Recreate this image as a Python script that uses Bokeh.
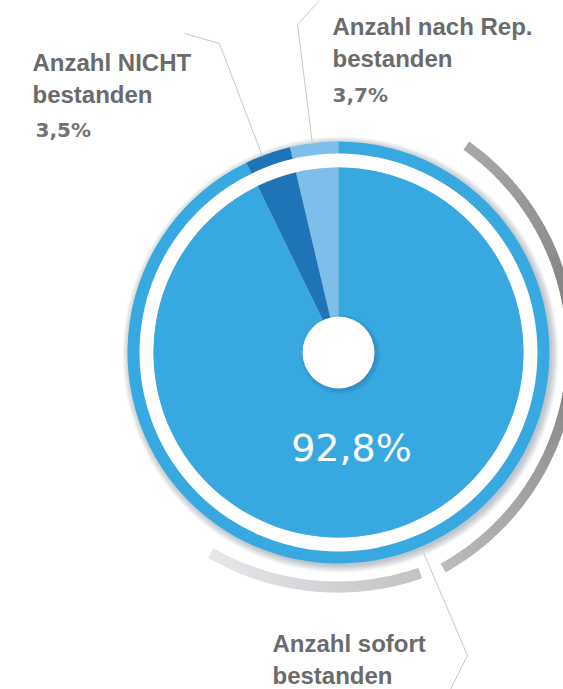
import numpy as np
from bokeh.plotting import figure
from bokeh.models import Range1d, ColumnDataSource
from bokeh.embed import file_html
from bokeh.resources import INLINE
from bokeh.core.properties import value

# ---- data ----
categories = ["Anzahl nach Rep. bestanden", "Anzahl NICHT bestanden", "Anzahl sofort bestanden"]
values = [3.7, 3.5, 92.8]
pct_labels = ["3,7%", "3,5%", "92,8%"]
label_lines = [["Anzahl nach Rep.", "bestanden"], ["Anzahl NICHT", "bestanden"], ["Anzahl sofort", "bestanden"]]
colors = ["#7dbfea", "#1f73b7", "#38a8e0"]

W, H = 563, 689
p = figure(width=W, height=H, x_range=Range1d(0, W), y_range=Range1d(0, H),
           output_backend="svg", toolbar_location=None, min_border=0)
p.axis.visible = False
p.grid.visible = False
p.outline_line_color = None
p.background_fill_color = "white"
p.border_fill_color = "white"


def Y(y):
    return H - y


cx, cy = 338, Y(352)


def lerp_hex(c1, c2, t):
    a = [int(c1[i:i + 2], 16) for i in (1, 3, 5)]
    b = [int(c2[i:i + 2], 16) for i in (1, 3, 5)]
    return "#%02x%02x%02x" % tuple(int(round(a[k] + (b[k] - a[k]) * t)) for k in range(3))


def grad_arc(x, y, r0, r1, a0, a1, stops, n=80):
    angs = np.linspace(a0, a1, n + 1)
    st, en, cols = [], [], []
    for i in range(n):
        t = (i + 0.5) / n
        for j in range(len(stops) - 1):
            if stops[j][0] <= t <= stops[j + 1][0]:
                tt = (t - stops[j][0]) / (stops[j + 1][0] - stops[j][0])
                c = lerp_hex(stops[j][1], stops[j + 1][1], tt)
                break
        lo, hi = min(angs[i], angs[i + 1]), max(angs[i], angs[i + 1])
        st.append(lo - 0.002)
        en.append(hi + 0.002)
        cols.append(c)
    p.annular_wedge(x=x, y=y, inner_radius=r0, outer_radius=r1, start_angle=st, end_angle=en,
                    fill_color=cols, line_color=None)


# decorative gray arcs
grad_arc(321, Y(349), 245, 255, np.radians(54.5), np.radians(-60.8),
         [(0, "#a9a9a9"), (0.45, "#7b7b7b"), (1, "#bcbcbc")])
grad_arc(337, Y(334), 247, 258, np.radians(-120), np.radians(-71),
         [(0, "#e8e8ec"), (1, "#c3c3c6")])

# soft shadow of outer ring
for k in range(8):
    p.circle(x=cx + 2, y=cy - 2, radius=211 + k, fill_color="#2a4f66", fill_alpha=0.045,
             line_color=None)

# pie geometry from data
fr = np.array(values) / sum(values)
ends = np.pi / 2 + 2 * np.pi * np.cumsum(fr)
starts = ends - 2 * np.pi * fr
src = ColumnDataSource(dict(start=starts, end=ends, color=colors, cat=categories))

# outer ring
p.annular_wedge(x=cx, y=cy, inner_radius=185, outer_radius=211, start_angle="start", end_angle="end",
                fill_color="color", line_color=None, source=src)
p.annular_wedge(x=cx, y=cy, inner_radius=185, outer_radius=199, start_angle=0, end_angle=2 * np.pi,
                fill_color="white", line_color=None)
# inner pie
p.wedge(x=cx, y=cy, radius=185, start_angle="start", end_angle="end",
        fill_color="color", line_color=None, source=src)

# center hole with shadow
for k in range(5):
    p.circle(x=cx + 2, y=cy - 2, radius=36 + k, fill_color="#1d5a80", fill_alpha=0.06, line_color=None)
p.circle(x=cx, y=cy, radius=36, fill_color="white", line_color=None)

# leader lines
lc = "#c8c8c8"
p.line(x=[262, 219, 184], y=[Y(156), Y(43), Y(33)], line_color=lc, line_width=1)
p.line(x=[312, 297, 319], y=[Y(144), Y(24), Y(0)], line_color=lc, line_width=1)
p.line(x=[423, 467, 450], y=[Y(552), Y(655), Y(689)], line_color=lc, line_width=1)

# labels (baseline positions compensated for renderer offset)
lab_pos = [(332, 26), (32, 62), (272, 643)]
pct_pos = [(332, 94), (35, 129)]
for (lx, ly), lines in zip(lab_pos, label_lines):
    p.text(x=[lx, lx], y=[Y(ly), Y(ly + 32)], text=lines,
           text_font=value("Liberation Sans"), text_font_style="bold",
           text_font_size="24px", text_color="#6b6b6b", text_baseline="alphabetic",
           text_align="left")
for (px_, py_), t in zip(pct_pos, pct_labels[:2]):
    p.text(x=[px_], y=[Y(py_)], text=[t], text_font=value("DejaVu Sans"), text_font_style="bold",
           text_font_size="20px", text_color="#727272", text_baseline="alphabetic", text_align="left")

p.text(x=[351], y=[Y(447)], text=[pct_labels[2]], text_font=value("DejaVu Sans"),
       text_font_size="38px", text_color="white", text_baseline="alphabetic", text_align="center")

open("out.html", "w").write(file_html(p, INLINE))
